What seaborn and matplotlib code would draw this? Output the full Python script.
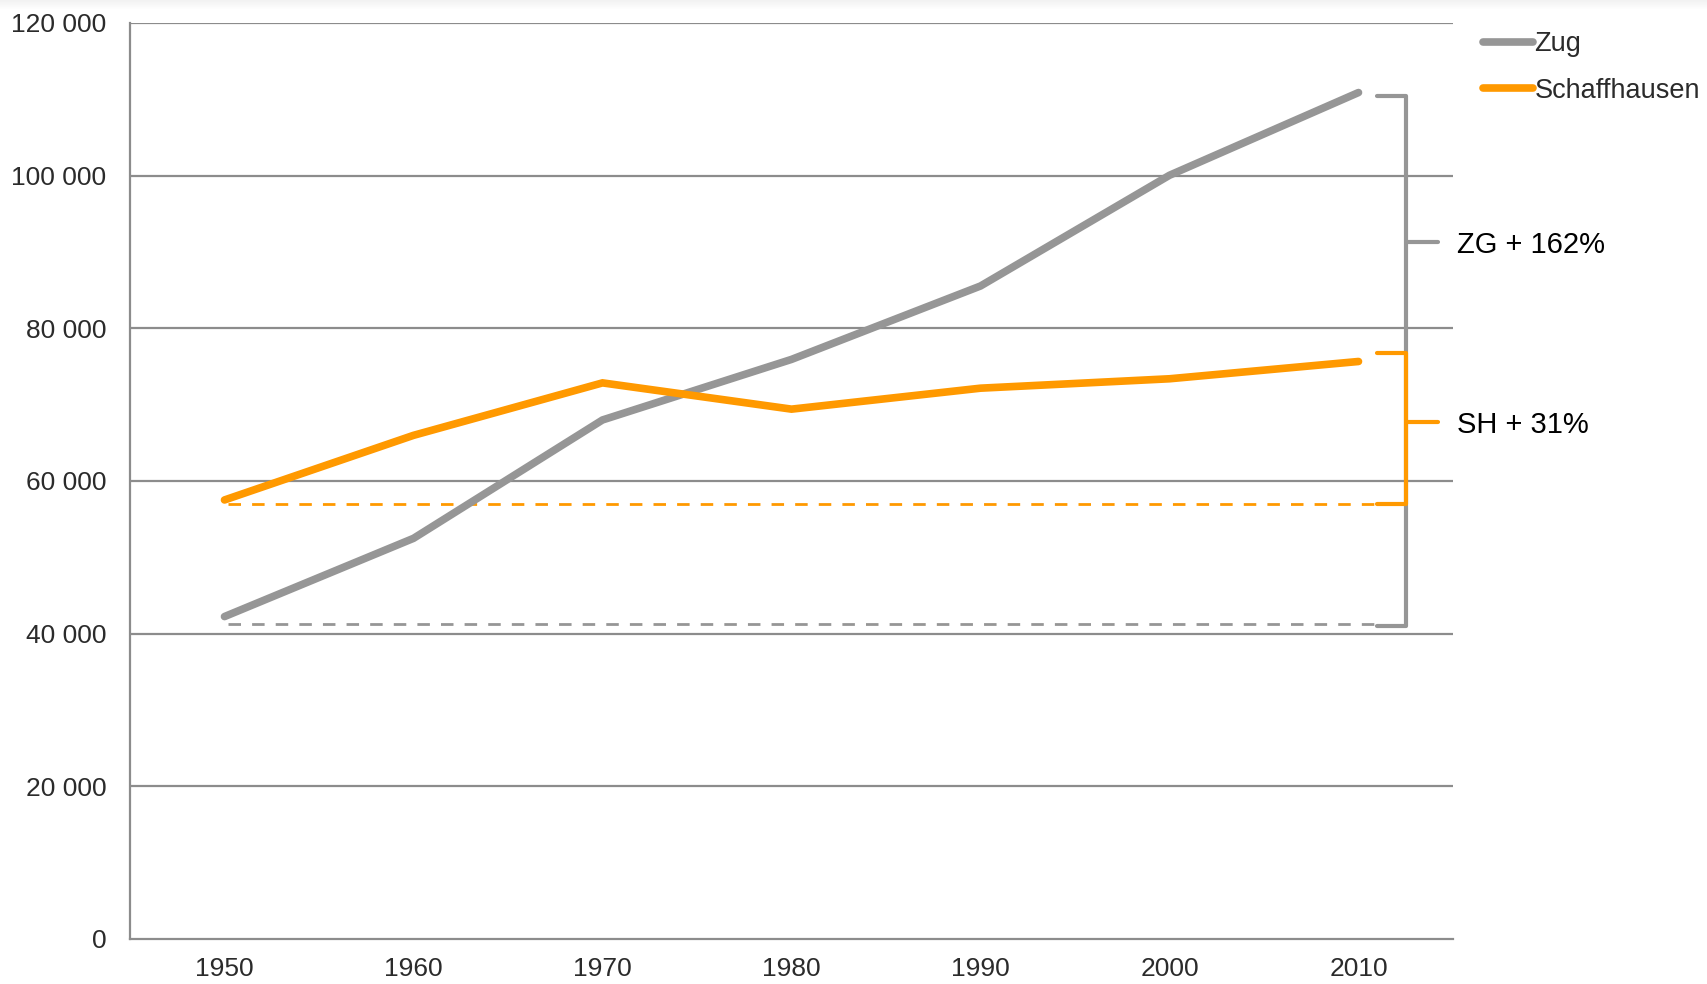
"""
Population Zug vs Schaffhausen 1950-2010 with growth brackets
Run: python plot.py
"""

import pandas as pd
import numpy as np
import matplotlib.pyplot as plt
import seaborn as sns
from matplotlib.ticker import FuncFormatter, MultipleLocator

# ── Data ────────────────────────────────────────────────────────────────────
YEARS        = [1950, 1960, 1970, 1980, 1990, 2000, 2010]
ZUG          = [42239, 52489, 67996, 75930, 85546, 100052, 110890]
SCHAFFHAUSEN = [57515, 65981, 72854, 69413, 72160, 73392, 75657]

SERIES  = ['Zug', 'Schaffhausen']
COLORS  = {'Zug': '#969696', 'Schaffhausen': '#FF9900'}

# bracket annotations: (label, low, high, mid, baseline of dashed line)
BRACKETS = [
    ('ZG + 162%', 41050, 110450, 91300, 41250, '#969696'),
    ('SH + 31%',  57000, 76800,  67750, 57000, '#FF9900'),
]

df = pd.DataFrame({
    'Jahr': YEARS * 2,
    'Einwohner': ZUG + SCHAFFHAUSEN,
    'Kanton': ['Zug'] * len(YEARS) + ['Schaffhausen'] * len(YEARS),
})

# ── Style ───────────────────────────────────────────────────────────────────
sns.set_style('white')
plt.rcParams['font.family'] = ['Liberation Sans', 'DejaVu Sans']

fig = plt.figure(figsize=(17.08, 9.84), dpi=100)
ax = fig.add_axes([130/1708, 45/984, 1323/1708, 916/984])

# faint shade along the top edge
shade = np.linspace(0.95, 1.0, 10)[:, None, None] * np.ones((10, 1708, 3))
fig.figimage(shade[::-1], xo=0, yo=984 - 10, origin='lower', zorder=0)

GRID = '#8c8c8c'
for y in range(20000, 120001, 20000):
    ax.axhline(y, color=GRID, lw=1.6, zorder=0)

sns.lineplot(data=df, x='Jahr', y='Einwohner', hue='Kanton', hue_order=SERIES,
             palette=COLORS, lw=5.5, ax=ax, legend=True, zorder=3)
for line in ax.lines:
    line.set_solid_capstyle('round')
    line.set_solid_joinstyle('miter')

# dashed baselines + brackets
x_dash0, x_br0, x_br1, x_mid1, x_txt = 1950.2, 2011.0, 2012.5, 2014.2, 2015.2
for label, lo, hi, mid, base, col in BRACKETS:
    ax.plot([x_dash0, x_br0], [base, base], color=col, lw=2, dashes=(4.5, 4), zorder=2)
    ax.plot([x_br0, x_br1, x_br1, x_br0], [hi, hi, lo, lo], color=col, lw=3,
            clip_on=False, zorder=2, solid_joinstyle='round')
    ax.plot([x_br1, x_mid1], [mid, mid], color=col, lw=3, clip_on=False, zorder=2)
    ax.text(x_txt, mid, label, fontsize=21, color='black', va='center_baseline',
            ha='left', clip_on=False)

# ── Axes ────────────────────────────────────────────────────────────────────
ax.set_xlim(1945, 2015)
ax.set_ylim(0, 120000)
ax.set_xticks(YEARS)
ax.xaxis.set_minor_locator(MultipleLocator(10, offset=5))
ax.yaxis.set_major_locator(MultipleLocator(20000))
ax.yaxis.set_major_formatter(FuncFormatter(lambda v, _: f'{int(v):,}'.replace(',', ' ')))
ax.tick_params(axis='x', which='major', length=0, pad=13, labelsize=19, labelcolor='#2b2b2b')
ax.tick_params(axis='x', which='minor', length=7, width=1.6, color=GRID, direction='out')
ax.tick_params(axis='y', length=7, width=1.6, color=GRID, direction='out',
               labelsize=19, labelcolor='#2b2b2b', pad=10)
ax.set_xlabel('')
ax.set_ylabel('')
for side in ['top', 'right']:
    ax.spines[side].set_visible(False)
for side in ['left', 'bottom']:
    ax.spines[side].set_color(GRID)
    ax.spines[side].set_linewidth(1.6)

ax.legend(title=None, frameon=False, loc='upper left',
          bbox_to_anchor=(1483/1708, 0.968), bbox_transform=fig.transFigure,
          borderpad=0, borderaxespad=0, handlelength=1.85, handletextpad=0.05,
          labelspacing=0.75, fontsize=19.5, labelcolor='#2b2b2b')

fig.savefig('out.png', dpi=100)
